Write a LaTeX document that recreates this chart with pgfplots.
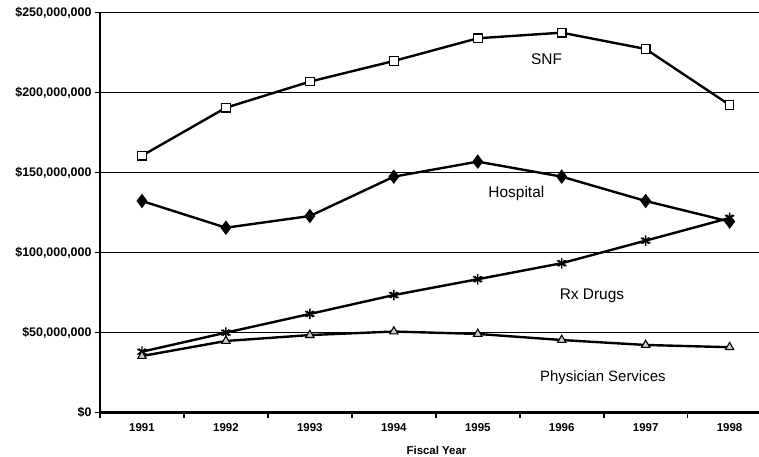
\documentclass[border=0pt]{standalone}
\usepackage{pgfplots}
\pgfplotsset{compat=1.18}
\usepackage{fontspec}
\setmainfont{Liberation Sans}
\begin{document}
\begin{tikzpicture}
\useasboundingbox (0bp,0bp) rectangle (759bp,457bp);
\begin{axis}[
  at={(100bp,44.5bp)}, anchor=south west,
  scale only axis, width=659bp, height=400bp,
  xmin=1990.5, xmax=1998.35, ymin=0, ymax=250,
  axis x line*=bottom, axis y line*=left,
  axis line style={line width=2bp, black},
  tick align=outside,
  xtick={1990.5,1991.5,1992.5,1993.5,1994.5,1995.5,1996.5,1997.5},
  xticklabels={1991,1992,1993,1994,1995,1996,1997,1998},
  ytick={0,50,100,150,200,250},
  yticklabels={\$0,{\$50,000,000},{\$100,000,000},{\$150,000,000},{\$200,000,000},{\$250,000,000}},
  every tick/.style={line width=1.6bp, black},
  major tick length=5bp,
  ymajorgrids, grid style={black, line width=1.4bp},
  xticklabel style={font=\bfseries\fontsize{11.5}{13}\selectfont, yshift=-2bp, xshift=41.97bp},
  yticklabel style={font=\bfseries\fontsize{12.5}{14}\selectfont, xshift=0bp},
  clip=false,
]
\addplot[black, line width=2.4bp, mark=square*, mark size=4.3bp, mark options={fill=white, line width=1.1bp}] coordinates {
(1991,160.5) (1992,190.5) (1993,206.8) (1994,219.7) (1995,233.9) (1996,237.4) (1997,227.2) (1998,192.2)};
\addplot[black, line width=2.4bp, mark=diamond*, mark size=5.3bp, mark options={fill=black}] coordinates {
(1991,132.2) (1992,115.5) (1993,122.8) (1994,147.4) (1995,156.8) (1996,147.4) (1997,132.2) (1998,119.3)};
\addplot[black, line width=2.4bp, mark=asterisk, mark size=5.3bp, mark options={line width=1.4bp}] coordinates {
(1991,38.0) (1992,49.9) (1993,61.6) (1994,73.4) (1995,83.3) (1996,93.3) (1997,107.4) (1998,121.6)};
\addplot[only marks, black, mark=x, mark size=4.3bp, mark options={line width=1.2bp}] coordinates {
(1991,38.0) (1992,49.9) (1993,61.6) (1994,73.4) (1995,83.3) (1996,93.3) (1997,107.4) (1998,121.6)};
\addplot[black, line width=2.4bp, mark=triangle*, mark size=4.8bp, mark options={fill=gray!40, line width=1.1bp}] coordinates {
(1991,35.3) (1992,44.7) (1993,48.4) (1994,50.6) (1995,49.1) (1996,45.3) (1997,42.2) (1998,40.8)};
\node[font=\fontsize{15.5}{18}\selectfont] at (axis cs:1995.82,220.9) {SNF};
\node[font=\fontsize{15.5}{18}\selectfont] at (axis cs:1995.46,136.6) {Hospital};
\node[font=\fontsize{15.5}{18}\selectfont] at (axis cs:1996.36,72.8) {Rx Drugs};
\node[font=\fontsize{15}{18}\selectfont] at (axis cs:1996.49,21.6) {Physician Services};
\end{axis}
\node[font=\bfseries\fontsize{11.5}{13}\selectfont] at (436.5bp,7bp) {Fiscal Year};
\end{tikzpicture}
\end{document}
